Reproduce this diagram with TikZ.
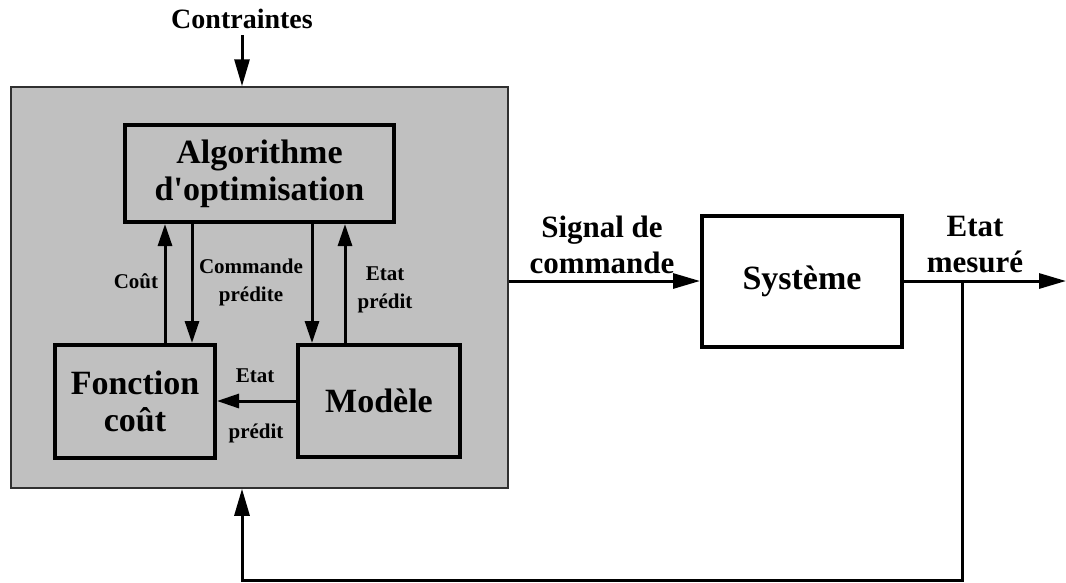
\documentclass[tikz,border=0pt]{standalone}
\usepackage{fontspec}
\setmainfont{Liberation Serif}[Ligatures=TeXOff]
\usetikzlibrary{arrows.meta}
\definecolor{panelgray}{HTML}{C0C0C0}
\definecolor{panelborder}{HTML}{303030}
\begin{document}
\begin{tikzpicture}[x=1pt,y=-1pt,
  bigfont/.style={font=\fontsize{34}{37}\selectfont\bfseries},
  midfont/.style={font=\fontsize{31}{36}\selectfont\bfseries},
  smallfont/.style={font=\fontsize{21}{28}\selectfont\bfseries},
  blockbox/.style={draw=black,line width=4pt,inner sep=0pt,align=center,bigfont},
  lbl/.style={inner sep=0pt,align=center},
  arr/.style={line width=3pt,-{Triangle[length=27pt,width=15pt]}},
  arrin/.style={line width=3pt,-{Triangle[length=22pt,width=14pt]}},
  ln/.style={line width=3pt}]
\useasboundingbox[fill=white] (0,0) rectangle (1066,582);

% gray panel
\node[draw=panelborder,fill=panelgray,line width=1.5pt,minimum width=497pt,minimum height=401pt,inner sep=0pt] (panel) at (259.5,287.5) {};

% blocks
\node[blockbox,minimum width=269pt,minimum height=97pt] (algo) at (259.5,173.5) {Algorithme\\d'optimisation};
\node[blockbox,minimum width=160pt,minimum height=113pt] (fc) at (135,401.5) {Fonction\\coût};
\node[blockbox,minimum width=162pt,minimum height=112pt] (mod) at (379,401) {Modèle};
\node[blockbox,fill=white,minimum width=200pt,minimum height=131pt] (sys) at (802,281) {Système};

% labels
\node[lbl,font=\fontsize{28}{32}\selectfont\bfseries,anchor=base] (contr) at (242,28) {Contraintes};
\node[lbl,smallfont,anchor=base] (lcout) at (136,288) {Coût};
\node[lbl,smallfont] (lcmd) at (251,282) {Commande\\prédite};
\node[lbl,smallfont] (letat1) at (385,289.5) {Etat\\prédit};
\node[lbl,smallfont,anchor=base] (letat2a) at (255,382) {Etat};
\node[lbl,smallfont,anchor=base] (letat2b) at (256,438) {prédit};
\node[lbl,midfont] (lsig) at (602,245) {Signal de\\commande};
\node[lbl,midfont] (lmes) at (975,245) {Etat\\mesuré};

% coordinates
\coordinate (cstart) at (242,35);
\coordinate (out) at (1066,281);
\coordinate (br) at (962,281);
\coordinate (bot) at (962,580);

% connectors
\draw[arr] (cstart) -- (cstart |- panel.north);
\draw[arrin] ([xshift=30pt]fc.north) -- ([xshift=30pt]fc.north |- algo.south);
\draw[arrin] ([xshift=57pt]fc.north |- algo.south) -- ([xshift=57pt]fc.north);
\draw[arrin] ([xshift=-67pt]mod.north |- algo.south) -- ([xshift=-67pt]mod.north);
\draw[arrin] ([xshift=-34pt]mod.north) -- ([xshift=-34pt]mod.north |- algo.south);
\draw[arrin] (mod.west) -- (mod.west -| fc.east);
\draw[arr] (panel.east |- sys.west) -- (sys.west);
\draw[arr] (sys.east) -- (out);
\draw[arr] (br) -- (bot) -| ([xshift=-17.5pt]panel.south);
\end{tikzpicture}
\end{document}
